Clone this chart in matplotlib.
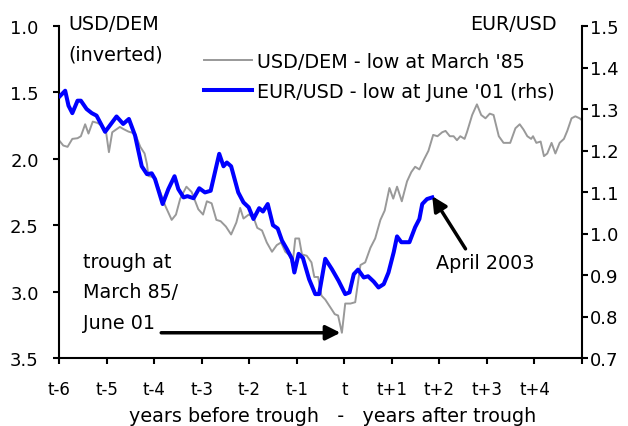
import matplotlib
matplotlib.use("Agg")
import matplotlib.pyplot as plt

plt.rcParams['font.family'] = ['DejaVu Sans']

# USD/DEM (inverted, left axis): years relative to trough (March 1985)
dem_t = [-6.00, -5.91, -5.82, -5.72, -5.61, -5.54, -5.45, -5.38, -5.29, -5.19, -5.10, -5.01,
         -4.95, -4.88, -4.72, -4.65, -4.54, -4.40, -4.29, -4.20, -4.15, -4.12, -3.99, -3.87,
         -3.77, -3.63, -3.54, -3.45, -3.32, -3.21, -3.07, -2.97, -2.89, -2.79, -2.69, -2.60,
         -2.49, -2.38, -2.27, -2.19, -2.12, -2.01, -1.91, -1.83, -1.73, -1.63, -1.52, -1.42,
         -1.33, -1.24, -1.14, -1.09, -1.03, -0.95, -0.89, -0.79, -0.69, -0.63, -0.55, -0.48,
         -0.40, -0.29, -0.20, -0.13, -0.05, 0.02, 0.13, 0.23, 0.34, 0.44, 0.55, 0.65,
         0.76, 0.85, 0.95, 1.03, 1.11, 1.21, 1.32, 1.41, 1.49, 1.58, 1.67, 1.77,
         1.87, 1.96, 2.06, 2.13, 2.22, 2.30, 2.37, 2.44, 2.53, 2.58, 2.69, 2.79,
         2.88, 2.97, 3.06, 3.14, 3.25, 3.35, 3.49, 3.60, 3.69, 3.77, 3.85, 3.93,
         3.97, 4.04, 4.13, 4.20, 4.27, 4.36, 4.44, 4.53, 4.62, 4.69, 4.78, 4.86,
         4.95, 5.00]
dem_v = [1.86, 1.90, 1.91, 1.85, 1.845, 1.83, 1.74, 1.81, 1.72, 1.73, 1.75, 1.80,
         1.95, 1.80, 1.76, 1.775, 1.795, 1.81, 1.91, 1.96, 2.04, 2.13, 2.14, 2.25,
         2.35, 2.46, 2.42, 2.30, 2.21, 2.25, 2.38, 2.42, 2.32, 2.335, 2.46, 2.47,
         2.51, 2.57, 2.48, 2.37, 2.45, 2.42, 2.44, 2.52, 2.54, 2.63, 2.70, 2.65,
         2.63, 2.70, 2.73, 2.80, 2.60, 2.60, 2.72, 2.73, 2.78, 2.89, 2.89, 3.03,
         3.06, 3.12, 3.17, 3.18, 3.31, 3.09, 3.09, 3.08, 2.80, 2.78, 2.67, 2.60,
         2.46, 2.39, 2.22, 2.30, 2.21, 2.32, 2.17, 2.10, 2.06, 2.08, 2.01, 1.94,
         1.82, 1.83, 1.80, 1.79, 1.83, 1.83, 1.86, 1.83, 1.85, 1.80, 1.67, 1.59,
         1.67, 1.695, 1.66, 1.67, 1.83, 1.88, 1.88, 1.77, 1.74, 1.78, 1.83, 1.85,
         1.83, 1.88, 1.87, 1.98, 1.96, 1.88, 1.96, 1.88, 1.85, 1.79, 1.695, 1.68,
         1.695, 1.71]

# EUR/USD (right axis): years relative to trough (June 2001)
eur_t = [-5.98, -5.87, -5.80, -5.72, -5.61, -5.54, -5.42, -5.31, -5.21, -5.03, -4.79, -4.65,
         -4.53, -4.40, -4.26, -4.15, -4.05, -3.98, -3.82, -3.70, -3.57, -3.49, -3.38, -3.30,
         -3.17, -3.05, -2.93, -2.81, -2.63, -2.54, -2.47, -2.38, -2.23, -2.12, -2.01, -1.91,
         -1.79, -1.71, -1.61, -1.50, -1.40, -1.31, -1.21, -1.10, -1.05, -0.96, -0.87, -0.74,
         -0.61, -0.53, -0.40, -0.26, -0.12, 0.02, 0.11, 0.20, 0.29, 0.41, 0.50, 0.62,
         0.72, 0.83, 0.93, 1.04, 1.11, 1.20, 1.37, 1.49, 1.58, 1.64, 1.74, 1.85]
eur_v = [1.331, 1.344, 1.308, 1.290, 1.320, 1.320, 1.300, 1.290, 1.284, 1.245, 1.282, 1.264,
         1.276, 1.236, 1.162, 1.143, 1.145, 1.131, 1.071, 1.107, 1.138, 1.107, 1.087, 1.090,
         1.085, 1.109, 1.099, 1.103, 1.192, 1.162, 1.171, 1.162, 1.099, 1.075, 1.063, 1.035,
         1.061, 1.053, 1.071, 1.020, 1.012, 0.983, 0.963, 0.939, 0.906, 0.951, 0.941, 0.890,
         0.854, 0.854, 0.939, 0.914, 0.886, 0.854, 0.858, 0.902, 0.913, 0.894, 0.897, 0.884,
         0.870, 0.878, 0.906, 0.955, 0.993, 0.979, 0.979, 1.015, 1.035, 1.071, 1.083, 1.087]

x_ticks = [-6, -5, -4, -3, -2, -1, 0, 1, 2, 3, 4, 5]
x_labels = ['t-6', 't-5', 't-4', 't-3', 't-2', 't-1', 't', 't+1', 't+2', 't+3', 't+4', '']
left_ticks = [1.0, 1.5, 2.0, 2.5, 3.0, 3.5]
right_ticks = [0.7, 0.8, 0.9, 1.0, 1.1, 1.2, 1.3, 1.4, 1.5]

FS = 13.8
FY = 13
FX = 12
W, H = 628, 427
fig = plt.figure(figsize=(W / 100, H / 100), dpi=100)
ax = fig.add_axes([59 / W, 1 - 359 / H, (582 - 59) / W, (359 - 27) / H])
ax2 = ax.twinx()

l1, = ax.plot(dem_t, dem_v, color='#999999', lw=1.4)
l2, = ax2.plot(eur_t, eur_v, color='#0000FF', lw=2.9)

ax.set_xlim(-6, 5)
ax.set_ylim(3.5, 1.0)
ax2.set_ylim(0.7, 1.5)

ax.set_xticks(x_ticks)
ax.set_xticklabels(x_labels, fontsize=FX)
ax.set_yticks(left_ticks)
ax.set_yticklabels([f'{v:.1f}' for v in left_ticks], fontsize=FY)
ax2.set_yticks(right_ticks)
ax2.set_yticklabels([f'{v:.1f}' for v in right_ticks], fontsize=FY)

for a in (ax, ax2):
    a.spines['top'].set_visible(False)
    for s in a.spines.values():
        s.set_linewidth(1.5)
ax.spines['right'].set_visible(False)
ax2.spines['left'].set_visible(False)
ax2.spines['bottom'].set_visible(False)
ax.tick_params(axis='x', direction='out', length=4.5, width=1.5, pad=11.5)
ax.tick_params(axis='y', direction='out', length=4.5, width=1.5, pad=10)
ax2.tick_params(axis='y', direction='out', length=4, width=1.5, pad=1.5)

leg = ax.legend([l1, l2], ["USD/DEM - low at March '85", "EUR/USD - low at June '01 (rhs)"],
                loc='upper left', bbox_to_anchor=((204 - 59) / 523, 1 - (53 - 27) / 332),
                frameon=False, fontsize=FS, handlelength=2.5, handletextpad=0.26,
                labelspacing=0.56, borderaxespad=0, borderpad=0)

fig.text(68 / W, 1 - 25 / H, 'USD/DEM', fontsize=FS, va='center', ha='left')
fig.text(68 / W, 1 - 55 / H, '(inverted)', fontsize=FS, va='center', ha='left')
fig.text(557 / W, 1 - 25 / H, 'EUR/USD', fontsize=FS, va='center', ha='right')
fig.text(333 / W, 1 - 417 / H, 'years before trough   -   years after trough',
         fontsize=FS, va='center', ha='center')

ax.text(-5.49, 2.777, 'trough at', fontsize=FS, va='center', ha='left')
ax.text(-5.49, 3.003, 'March 85/', fontsize=FS, va='center', ha='left')
ax.text(-5.49, 3.229, 'June 01', fontsize=FS, va='center', ha='left')
ax.annotate('', xy=(-0.08, 3.31), xytext=(-3.85, 3.31),
            arrowprops=dict(arrowstyle='-|>', lw=2.5, color='black',
                            mutation_scale=22, shrinkA=0, shrinkB=0))

ax2.text(2.97, 0.931, 'April 2003', fontsize=FS, va='center', ha='center')
ax2.annotate('', xy=(1.85, 1.090), xytext=(2.55, 0.963),
             arrowprops=dict(arrowstyle='-|>', lw=2.5, color='black',
                             mutation_scale=22, shrinkA=0, shrinkB=0))

fig.savefig('out.png', dpi=100)
